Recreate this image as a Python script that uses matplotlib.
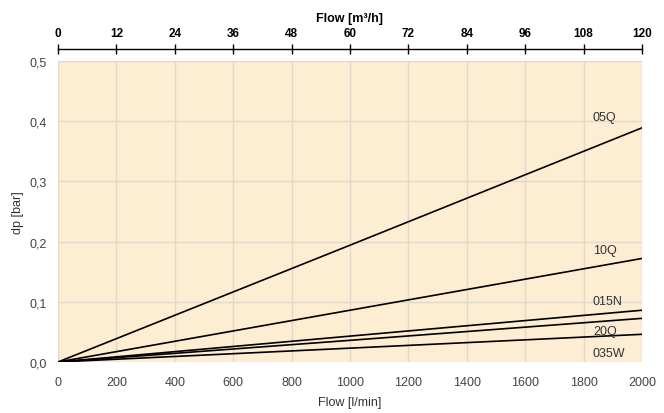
import matplotlib.pyplot as plt
from matplotlib.ticker import FuncFormatter

plt.rcParams["font.family"] = ["Liberation Sans", "DejaVu Sans"]

# flow [l/min] vs pressure drop [bar]
flow_lpm = [0, 1000, 2000]
series = {
    "05Q": [0.0, 0.194, 0.389],
    "10Q": [0.0, 0.086, 0.172],
    "015N": [0.0, 0.043, 0.086],
    "20Q": [0.0, 0.036, 0.0725],
    "035W": [0.0, 0.023, 0.046],
}
label_y = {"05Q": 0.407, "10Q": 0.186, "015N": 0.101, "20Q": 0.0515, "035W": 0.015}

bottom_ticks = list(range(0, 2001, 200))
top_ticks = list(range(0, 121, 12))
y_ticks = [0.0, 0.1, 0.2, 0.3, 0.4, 0.5]

fig = plt.figure(figsize=(6.64, 4.14), dpi=100)
ax = fig.add_axes([58 / 664, 51 / 414, 584 / 664, 301 / 414])
ax.set_facecolor("#fdedd3")

for name, vals in series.items():
    ax.plot(flow_lpm, vals, color="black", lw=1.2)
    ax.text(1832, label_y[name], name, fontsize=9, color="#333333", va="center")

ax.set_xlim(0, 2000)
ax.set_ylim(0, 0.5)
ax.set_xticks(bottom_ticks)
ax.set_yticks(y_ticks)
ax.yaxis.set_major_formatter(FuncFormatter(lambda v, p: f"{v:.1f}".replace(".", ",")))
ax.tick_params(axis="x", length=0, labelsize=9, labelcolor="#444444", pad=10)
ax.tick_params(axis="y", length=0, labelsize=9, labelcolor="#444444", pad=8)
ax.grid(True, color="#e2d9ca", lw=1.0)
for s in ax.spines.values():
    s.set_visible(False)
ax.set_xlabel("Flow [l/min]", fontsize=9, color="#333333", labelpad=6)
ax.set_ylabel("dp [bar]", fontsize=9, color="#333333", labelpad=4)

ax2 = ax.twiny()
ax2.set_xlim(0, 120)
ax2.set_xticks(top_ticks)
for s in ["left", "right", "bottom"]:
    ax2.spines[s].set_visible(False)
ax2.spines["top"].set_position(("outward", 9))
ax2.spines["top"].set_linewidth(1.0)
ax2.tick_params(direction="inout", length=7, width=1.0, labelsize=8.5, pad=3)
for lab in ax2.get_xticklabels():
    lab.set_fontweight("bold")
ax2.set_xlabel("Flow [m³/h]", fontsize=9, fontweight="bold", labelpad=5)

fig.savefig("out.png", dpi=100)
